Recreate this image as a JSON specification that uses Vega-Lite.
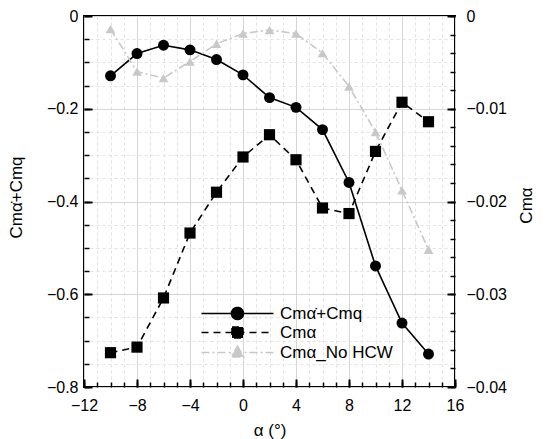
{
  "$schema": "https://vega.github.io/schema/vega-lite/v6.json",
  "width": 371,
  "height": 371,
  "autosize": {"type": "none"},
  "padding": {"left": 84, "top": 16, "right": 91, "bottom": 52},
  "background": "white",
  "config": {
    "font": "Liberation Sans",
    "view": {"stroke": "black", "strokeWidth": 2},
    "axis": {
      "labelFont": "Liberation Sans",
      "labelFontSize": 16,
      "labelColor": "black",
      "titleFont": "Liberation Sans",
      "titleFontSize": 17,
      "titleFontWeight": "normal",
      "titleColor": "black",
      "domain": false,
      "tickColor": "black",
      "labelFlush": false,
      "labelOverlap": false
    },
    "legend": {
      "labelFont": "Liberation Sans",
      "labelFontSize": 17,
      "labelColor": "black"
    }
  },
  "data": {
    "values": [
      {"a": -10, "s": "sum", "v": -0.129},
      {"a": -8, "s": "sum", "v": -0.081},
      {"a": -6, "s": "sum", "v": -0.063},
      {"a": -4, "s": "sum", "v": -0.073},
      {"a": -2, "s": "sum", "v": -0.094},
      {"a": 0, "s": "sum", "v": -0.127},
      {"a": 2, "s": "sum", "v": -0.176},
      {"a": 4, "s": "sum", "v": -0.197},
      {"a": 6, "s": "sum", "v": -0.245},
      {"a": 8, "s": "sum", "v": -0.359},
      {"a": 10, "s": "sum", "v": -0.539},
      {"a": 12, "s": "sum", "v": -0.662},
      {"a": 14, "s": "sum", "v": -0.729},
      {"a": -10, "s": "cma", "v": -0.0363},
      {"a": -8, "s": "cma", "v": -0.0357},
      {"a": -6, "s": "cma", "v": -0.0304},
      {"a": -4, "s": "cma", "v": -0.0234},
      {"a": -2, "s": "cma", "v": -0.0190},
      {"a": 0, "s": "cma", "v": -0.0152},
      {"a": 2, "s": "cma", "v": -0.0128},
      {"a": 4, "s": "cma", "v": -0.0155},
      {"a": 6, "s": "cma", "v": -0.0207},
      {"a": 8, "s": "cma", "v": -0.0213},
      {"a": 10, "s": "cma", "v": -0.0146},
      {"a": 12, "s": "cma", "v": -0.0093},
      {"a": 14, "s": "cma", "v": -0.0114},
      {"a": -10, "s": "nohcw", "v": -0.0014},
      {"a": -8, "s": "nohcw", "v": -0.0060},
      {"a": -6, "s": "nohcw", "v": -0.0067},
      {"a": -4, "s": "nohcw", "v": -0.0049},
      {"a": -2, "s": "nohcw", "v": -0.0030},
      {"a": 0, "s": "nohcw", "v": -0.0019},
      {"a": 2, "s": "nohcw", "v": -0.0015},
      {"a": 4, "s": "nohcw", "v": -0.0019},
      {"a": 6, "s": "nohcw", "v": -0.0040},
      {"a": 8, "s": "nohcw", "v": -0.0076},
      {"a": 10, "s": "nohcw", "v": -0.0125},
      {"a": 12, "s": "nohcw", "v": -0.0188},
      {"a": 14, "s": "nohcw", "v": -0.0252}
    ]
  },
  "layer": [
    {
      "transform": [{"filter": "datum.s === 'sum'"}],
      "mark": {"type": "point", "opacity": 0},
      "encoding": {
        "x": {
          "field": "a", "type": "quantitative",
          "scale": {"domain": [-12, 16], "nice": false, "zero": false},
          "axis": {
            "orient": "bottom",
            "values": [-12,-11,-10,-9,-8,-7,-6,-5,-4,-3,-2,-1,0,1,2,3,4,5,6,7,8,9,10,11,12,13,14,15,16],
            "labels": false, "title": null,
            "tickSize": -5, "tickWidth": 1.5,
            "grid": true, "gridColor": "#e2e2e2", "gridDash": [3, 3], "gridWidth": 1
          }
        },
        "y": {
          "field": "v", "type": "quantitative",
          "scale": {"domain": [-0.8, 0], "nice": false, "zero": false},
          "axis": {
            "orient": "left",
            "values": [-0.8,-0.75,-0.7,-0.65,-0.6,-0.55,-0.5,-0.45,-0.4,-0.35,-0.3,-0.25,-0.2,-0.15,-0.1,-0.05,0],
            "labels": false, "title": null,
            "tickSize": -5, "tickWidth": 1.5,
            "grid": true, "gridColor": "#e2e2e2", "gridDash": [3, 3], "gridWidth": 1
          }
        }
      }
    },
    {
      "transform": [{"filter": "datum.s === 'sum'"}],
      "mark": {"type": "point", "opacity": 0},
      "encoding": {
        "x": {
          "field": "a", "type": "quantitative",
          "scale": {"domain": [-12, 16], "nice": false, "zero": false},
          "axis": {
            "orient": "bottom",
            "values": [-12, -8, -4, 0, 4, 8, 12, 16],
            "format": "d",
            "tickSize": -8, "tickWidth": 2,
            "labelPadding": 18,
            "grid": true, "gridColor": "#d6d6d6", "gridWidth": 1,
            "title": "α (°)",
            "titleX": 185.5, "titleY": 43, "titleBaseline": "middle"
          }
        },
        "y": {
          "field": "v", "type": "quantitative",
          "scale": {"domain": [-0.8, 0], "nice": false, "zero": false},
          "axis": {
            "orient": "left",
            "values": [-0.8, -0.6, -0.4, -0.2, 0],
            "format": ".1~f",
            "tickSize": -8, "tickWidth": 2,
            "labelPadding": 14,
            "grid": true, "gridColor": "#d6d6d6", "gridWidth": 1,
            "title": "Cmα̇+Cmq",
            "titleX": -68, "titleY": 181, "titleAngle": 270, "titleBaseline": "middle", "titleAlign": "center"
          }
        }
      }
    },
    {
      "transform": [{"filter": "datum.s === 'sum'"}],
      "mark": {"type": "line", "strokeWidth": 1.6},
      "encoding": {
        "x": {"field": "a", "type": "quantitative", "scale": {"domain": [-12, 16], "nice": false, "zero": false}, "axis": null},
        "y": {"field": "v", "type": "quantitative", "scale": {"domain": [-0.8, 0], "nice": false, "zero": false}, "axis": null},
        "color": {
          "field": "s", "type": "nominal",
          "scale": {"domain": ["sum", "cma", "nohcw"], "range": ["black", "black", "#c8c8c8"]},
          "legend": {
            "title": null,
            "orient": "none",
            "legendX": 145,
            "legendY": 289,
            "padding": 0,
            "symbolSize": 100,
            "labelOffset": 34,
            "rowPadding": 0,
            "labelExpr": "datum.value === 'sum' ? 'Cmα̇+Cmq' : datum.value === 'cma' ? 'Cmα' : 'Cmα_No HCW'",
            "encode": {
              "symbols": {
                "update": {
                  "shape": {"signal": "datum.value === 'sum' ? 'M-7.2,0H7.2M-1.2,0A1.2,1.2 0 1,0 1.2,0A1.2,1.2 0 1,0 -1.2,0Z' : datum.value === 'cma' ? 'M-7.2,0H7.2M-1.1,-1.1H1.1V1.1H-1.1Z' : 'M-7.2,0H7.2M0,-1.3L1.25,0.9H-1.25Z'"},
                  "fill": {"signal": "datum.value === 'nohcw' ? '#c8c8c8' : 'black'"},
                  "stroke": {"signal": "datum.value === 'nohcw' ? '#c8c8c8' : 'black'"},
                  "strokeDash": {"signal": "datum.value === 'sum' ? [1, 0] : datum.value === 'cma' ? [7, 5] : [8, 3, 2, 3]"},
                  "strokeWidth": {"value": 1.6},
                  "opacity": {"value": 1},
                  "fillOpacity": {"value": 1}
                }
              }
            }
          }
        }
      }
    },
    {
      "transform": [{"filter": "datum.s === 'sum'"}],
      "mark": {"type": "point", "shape": "circle", "filled": true, "color": "black", "size": 120, "opacity": 1},
      "encoding": {
        "x": {"field": "a", "type": "quantitative", "scale": {"domain": [-12, 16], "nice": false, "zero": false}, "axis": null},
        "y": {"field": "v", "type": "quantitative", "scale": {"domain": [-0.8, 0], "nice": false, "zero": false}, "axis": null}
      }
    },
    {
      "transform": [{"filter": "datum.s === 'nohcw'"}],
      "mark": {"type": "line", "color": "#c8c8c8", "strokeWidth": 1.6, "strokeDash": [8, 3, 2, 3]},
      "encoding": {
        "x": {"field": "a", "type": "quantitative", "scale": {"domain": [-12, 16], "nice": false, "zero": false}, "axis": null},
        "y": {"field": "v", "type": "quantitative", "scale": {"domain": [-0.04, 0], "nice": false, "zero": false}, "axis": null}
      }
    },
    {
      "transform": [{"filter": "datum.s === 'nohcw'"}],
      "mark": {"type": "point", "shape": "triangle-up", "filled": true, "color": "#c8c8c8", "size": 95, "opacity": 1},
      "encoding": {
        "x": {"field": "a", "type": "quantitative", "scale": {"domain": [-12, 16], "nice": false, "zero": false}, "axis": null},
        "y": {"field": "v", "type": "quantitative", "scale": {"domain": [-0.04, 0], "nice": false, "zero": false}, "axis": null}
      }
    },
    {
      "transform": [{"filter": "datum.s === 'cma'"}],
      "mark": {"type": "line", "color": "black", "strokeWidth": 1.6, "strokeDash": [7, 5]},
      "encoding": {
        "x": {"field": "a", "type": "quantitative", "scale": {"domain": [-12, 16], "nice": false, "zero": false}, "axis": null},
        "y": {
          "field": "v", "type": "quantitative",
          "scale": {"domain": [-0.04, 0], "nice": false, "zero": false},
          "axis": {
            "orient": "right",
            "values": [-0.04, -0.03, -0.02, -0.01, 0],
            "format": ".2~f",
            "tickSize": -8, "tickWidth": 2,
            "labelPadding": 19,
            "grid": false,
            "title": "Cmα",
            "titleX": 71, "titleY": 189, "titleAngle": 270, "titleBaseline": "middle", "titleAlign": "center"
          }
        }
      }
    },
    {
      "transform": [{"filter": "datum.s === 'cma'"}],
      "mark": {"type": "point", "shape": "square", "filled": true, "color": "black", "size": 125, "opacity": 1},
      "encoding": {
        "x": {"field": "a", "type": "quantitative", "scale": {"domain": [-12, 16], "nice": false, "zero": false}, "axis": null},
        "y": {
          "field": "v", "type": "quantitative",
          "scale": {"domain": [-0.04, 0], "nice": false, "zero": false},
          "axis": {
            "orient": "right",
            "values": [-0.04,-0.038,-0.036,-0.034,-0.032,-0.03,-0.028,-0.026,-0.024,-0.022,-0.02,-0.018,-0.016,-0.014,-0.012,-0.01,-0.008,-0.006,-0.004,-0.002,0],
            "labels": false, "title": null,
            "tickSize": -5, "tickWidth": 1.5,
            "grid": false
          }
        }
      }
    }
  ],
  "resolve": {"scale": {"y": "independent"}, "axis": {"x": "independent", "y": "independent"}}
}
